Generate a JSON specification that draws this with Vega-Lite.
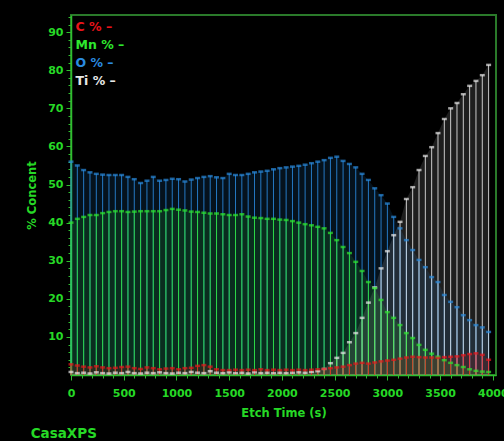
{
  "$schema": "https://vega.github.io/schema/vega-lite/v6.json",
  "width": 425,
  "height": 360,
  "autosize": {"type": "none"},
  "padding": {"left": 71, "top": 15, "right": 8, "bottom": 66},
  "background": "#000000",
  "title": {"text": "CasaXPS", "orient": "bottom", "anchor": "start", "frame": "bounds", "color": "#26d926", "fontSize": 13.5, "font": "DejaVu Sans", "fontWeight": "bold", "offset": 8, "dx": 4},
  "config": {
    "view": {"stroke": "#2a7a2a", "strokeWidth": 2},
    "axis": {"domainColor": "#2fbf2f", "domainWidth": 1.5, "tickColor": "#2fbf2f", "labelColor": "#26d926", "titleColor": "#26d926", "labelFont": "DejaVu Sans", "titleFont": "DejaVu Sans", "labelFontWeight": "bold", "titleFontWeight": "bold", "labelFontSize": 11, "titleFontSize": 11.5, "grid": false}
  },
  "data": {"values": [
    {"t":0,"C":2.8,"Mn":40.0,"O":56.0,"Ti":0.8},
    {"t":60,"C":2.5,"Mn":41.0,"O":55.0,"Ti":0.5},
    {"t":120,"C":2.2,"Mn":41.5,"O":53.8,"Ti":0.6},
    {"t":180,"C":2.0,"Mn":42.0,"O":53.2,"Ti":0.4},
    {"t":240,"C":2.3,"Mn":42.0,"O":52.8,"Ti":0.7},
    {"t":300,"C":2.0,"Mn":42.5,"O":52.6,"Ti":0.5},
    {"t":360,"C":1.8,"Mn":42.8,"O":52.5,"Ti":0.4},
    {"t":420,"C":1.9,"Mn":43.0,"O":52.5,"Ti":0.6},
    {"t":480,"C":2.1,"Mn":43.0,"O":52.5,"Ti":0.5},
    {"t":540,"C":2.2,"Mn":42.8,"O":52.0,"Ti":0.8},
    {"t":600,"C":1.8,"Mn":42.9,"O":51.4,"Ti":0.5},
    {"t":660,"C":1.6,"Mn":43.0,"O":50.4,"Ti":0.4},
    {"t":720,"C":2.0,"Mn":43.0,"O":51.0,"Ti":0.6},
    {"t":780,"C":1.8,"Mn":43.0,"O":52.0,"Ti":0.5},
    {"t":840,"C":1.5,"Mn":43.0,"O":51.0,"Ti":0.7},
    {"t":900,"C":1.7,"Mn":43.3,"O":51.2,"Ti":0.5},
    {"t":960,"C":1.8,"Mn":43.6,"O":51.5,"Ti":0.4},
    {"t":1020,"C":1.5,"Mn":43.4,"O":51.4,"Ti":0.6},
    {"t":1080,"C":1.8,"Mn":43.2,"O":50.8,"Ti":0.5},
    {"t":1140,"C":1.9,"Mn":42.9,"O":51.3,"Ti":0.8},
    {"t":1200,"C":2.4,"Mn":42.8,"O":51.7,"Ti":0.6},
    {"t":1260,"C":2.6,"Mn":42.6,"O":52.0,"Ti":0.5},
    {"t":1320,"C":2.2,"Mn":42.4,"O":52.2,"Ti":1.0},
    {"t":1380,"C":1.5,"Mn":42.4,"O":51.9,"Ti":0.6},
    {"t":1440,"C":1.3,"Mn":42.2,"O":51.7,"Ti":0.5},
    {"t":1500,"C":1.3,"Mn":42.0,"O":52.8,"Ti":0.7},
    {"t":1560,"C":1.4,"Mn":42.0,"O":52.5,"Ti":0.5},
    {"t":1620,"C":1.3,"Mn":42.2,"O":52.5,"Ti":0.6},
    {"t":1680,"C":1.4,"Mn":41.6,"O":52.8,"Ti":0.4},
    {"t":1740,"C":1.3,"Mn":41.3,"O":53.2,"Ti":0.7},
    {"t":1800,"C":1.5,"Mn":41.2,"O":53.4,"Ti":0.5},
    {"t":1860,"C":1.3,"Mn":41.0,"O":53.6,"Ti":0.6},
    {"t":1920,"C":1.4,"Mn":41.0,"O":54.0,"Ti":0.5},
    {"t":1980,"C":1.3,"Mn":40.8,"O":54.3,"Ti":0.6},
    {"t":2040,"C":1.4,"Mn":40.7,"O":54.5,"Ti":0.5},
    {"t":2100,"C":1.3,"Mn":40.4,"O":54.7,"Ti":0.6},
    {"t":2160,"C":1.4,"Mn":40.0,"O":54.9,"Ti":0.7},
    {"t":2220,"C":1.3,"Mn":39.6,"O":55.2,"Ti":0.6},
    {"t":2280,"C":1.4,"Mn":39.3,"O":55.6,"Ti":0.8},
    {"t":2340,"C":1.5,"Mn":38.9,"O":56.0,"Ti":1.0},
    {"t":2400,"C":1.6,"Mn":38.5,"O":56.4,"Ti":1.6},
    {"t":2460,"C":1.8,"Mn":37.3,"O":57.0,"Ti":3.1},
    {"t":2520,"C":2.0,"Mn":35.4,"O":57.3,"Ti":4.5},
    {"t":2580,"C":2.2,"Mn":33.6,"O":56.2,"Ti":5.8},
    {"t":2640,"C":2.6,"Mn":32.0,"O":55.4,"Ti":8.6},
    {"t":2700,"C":3.0,"Mn":29.7,"O":54.5,"Ti":11.0},
    {"t":2760,"C":3.2,"Mn":27.3,"O":52.8,"Ti":15.0},
    {"t":2820,"C":3.0,"Mn":24.4,"O":51.2,"Ti":19.0},
    {"t":2880,"C":3.3,"Mn":22.8,"O":49.0,"Ti":23.0},
    {"t":2940,"C":3.6,"Mn":19.7,"O":47.2,"Ti":28.0},
    {"t":3000,"C":3.8,"Mn":16.5,"O":45.0,"Ti":32.5},
    {"t":3060,"C":4.0,"Mn":15.0,"O":41.5,"Ti":36.7},
    {"t":3120,"C":4.3,"Mn":13.1,"O":38.5,"Ti":40.2},
    {"t":3180,"C":4.6,"Mn":11.0,"O":35.4,"Ti":46.2},
    {"t":3240,"C":4.8,"Mn":9.7,"O":32.8,"Ti":49.3},
    {"t":3300,"C":4.7,"Mn":7.9,"O":30.2,"Ti":53.8},
    {"t":3360,"C":4.6,"Mn":6.6,"O":28.3,"Ti":57.5},
    {"t":3420,"C":4.6,"Mn":5.6,"O":25.7,"Ti":59.8},
    {"t":3480,"C":4.5,"Mn":4.8,"O":24.4,"Ti":63.5},
    {"t":3540,"C":4.7,"Mn":3.9,"O":21.0,"Ti":67.2},
    {"t":3600,"C":4.8,"Mn":3.2,"O":19.2,"Ti":70.0},
    {"t":3660,"C":4.9,"Mn":2.6,"O":17.8,"Ti":71.4},
    {"t":3720,"C":5.2,"Mn":2.1,"O":15.7,"Ti":73.7},
    {"t":3780,"C":5.5,"Mn":1.5,"O":14.4,"Ti":75.9},
    {"t":3840,"C":5.7,"Mn":1.1,"O":13.1,"Ti":77.2},
    {"t":3900,"C":5.3,"Mn":0.9,"O":12.5,"Ti":78.7},
    {"t":3960,"C":4.0,"Mn":0.8,"O":11.3,"Ti":81.4}
  ]},
  "transform": [{"fold": ["O", "Ti", "Mn", "C"], "as": ["s", "v"]}],
  "resolve": {"axis": {"x": "independent", "y": "independent"}},
  "layer": [
    {
      "mark": {"type": "area", "opacity": 0.13, "interpolate": "linear"},
      "encoding": {
        "x": {"field": "t", "type": "quantitative", "scale": {"domain": [0, 4030], "nice": false, "zero": false}, "axis": null},
        "y": {"field": "v", "type": "quantitative", "stack": null, "scale": {"domain": [0, 94.5], "nice": false}, "axis": null},
        "color": {"field": "s", "type": "nominal",
                  "scale": {"domain": ["C", "Mn", "O", "Ti"], "range": ["#e8141a", "#2ee82e", "#2a8be0", "#e8e8e8"]},
                  "legend": {"orient": "top-left", "offset": 6, "padding": 0, "title": null, "symbolSize": 1, "symbolOpacity": 0, "symbolStrokeWidth": 0, "labelOffset": -14, "rowPadding": 5, "labelFontSize": 12.5, "labelFont": "DejaVu Sans", "labelFontWeight": "bold", "labelExpr": "datum.label + ' % –'",
                             "encode": {"labels": {"update": {"fill": {"scale": "color", "field": "value"}}}}}}
      }
    },
    {
      "mark": {"type": "rule", "strokeWidth": 1, "opacity": 0.85},
      "encoding": {
        "x": {"field": "t", "type": "quantitative",
              "axis": {"orient": "bottom", "values": [0,500,1000,1500,2000,2500,3000,3500,4000], "format": "d", "tickSize": 5, "labelPadding": 7, "title": "Etch Time (s)", "titlePadding": 9, "labelFlush": false}},
        "y": {"field": "v", "type": "quantitative",
              "axis": {"orient": "left", "values": [10,20,30,40,50,60,70,80,90], "tickSize": 5, "labelPadding": 3, "title": "% Concent", "titlePadding": 10}},
        "y2": {"datum": 0},
        "color": {"field": "s", "type": "nominal", "legend": null}
      }
    },
    {
      "mark": {"type": "tick", "orient": "horizontal", "size": 5, "thickness": 2.5},
      "encoding": {
        "x": {"field": "t", "type": "quantitative",
              "axis": {"orient": "bottom", "values": [100,200,300,400,600,700,800,900,1100,1200,1300,1400,1600,1700,1800,1900,2100,2200,2300,2400,2600,2700,2800,2900,3100,3200,3300,3400,3600,3700,3800,3900], "labels": false, "title": null, "domain": false, "tickSize": 3}},
        "y": {"field": "v", "type": "quantitative",
              "axis": {"orient": "left", "values": [2,4,6,8,12,14,16,18,22,24,26,28,32,34,36,38,42,44,46,48,52,54,56,58,62,64,66,68,72,74,76,78,82,84,86,88,92,94], "labels": false, "title": null, "domain": false, "tickSize": 3}},
        "color": {"field": "s", "type": "nominal", "legend": null}
      }
    }
  ]
}
